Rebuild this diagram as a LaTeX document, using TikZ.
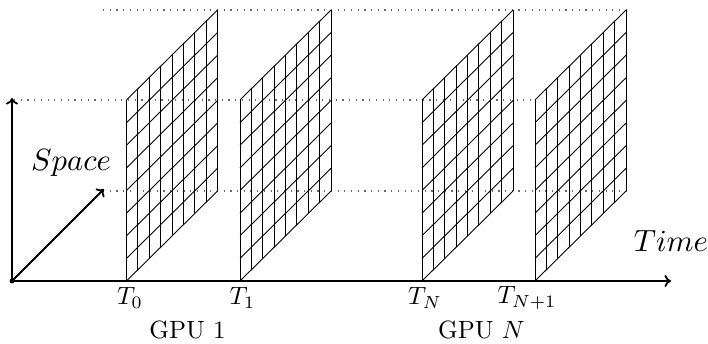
\documentclass[tikz,border=0pt]{standalone}
\usetikzlibrary{calc,arrows.meta}
\tikzset{
  axis/.style={line width=1.8pt,-{To[length=6.5pt,width=12pt]}},
  gridline/.style={line width=0.9pt},
  guide/.style={black!60,line width=1.2pt,dash pattern=on 1.2pt off 5.5pt},
  tlabel/.style={scale=2.5,inner sep=0pt},
  bigitalic/.style={scale=3.07,inner sep=0pt},
}
\begin{document}
\begin{tikzpicture}[x=1pt,y=1pt]
\useasboundingbox (0,0) rectangle (708,344);
% axes
\coordinate (O) at (12,63);
\coordinate (up) at (12,246);
\coordinate (diag) at (104,155);
\coordinate (right) at (671,63);
% guide lines
\coordinate (g1a) at (103,334); \coordinate (g1b) at (626,334);
\coordinate (g2a) at (14,244);  \coordinate (g2b) at (535,244);
\coordinate (g3a) at (103,153); \coordinate (g3b) at (626,153);
\draw[guide] (g1a) -- (g1b);
\draw[guide] (g2a) -- (g2b);
\draw[guide] (g3a) -- (g3b);
% panels
\foreach \x/\n in {126.5/p0,240/p1,422/pN,535/pN1}{
  \coordinate (\n) at (\x,63);
  \foreach \i in {0,...,8}{
    \draw[gridline] ($(\n)+(\i*91/8,\i*90/8)$) -- ++(0,181);
    \draw[gridline] ($(\n)+(0,\i*181/8)$) -- ++(91,90);
  }
}
\draw[axis] (O) -- (up);
\draw[axis] (O) -- (diag);
\draw[axis] (O) -- (right);
\fill (O) circle (2.4pt);
% labels
\node[bigitalic] (space) at (71,181) {$Space$};
\node[bigitalic] (time) at (671,103) {$Time$};
\node[tlabel] (t0) at (130,46) {$T_0$};
\node[tlabel] (t1) at (242.5,46) {$T_1$};
\node[tlabel] (tn) at (425,46) {$T_N$};
\node[tlabel] (tn1) at (527,46) {$T_{N+1}$};
\node[tlabel] (gpu1) at (187.5,14) {GPU 1};
\node[tlabel] (gpun) at (481.5,14) {GPU $N$};
\end{tikzpicture}
\end{document}
